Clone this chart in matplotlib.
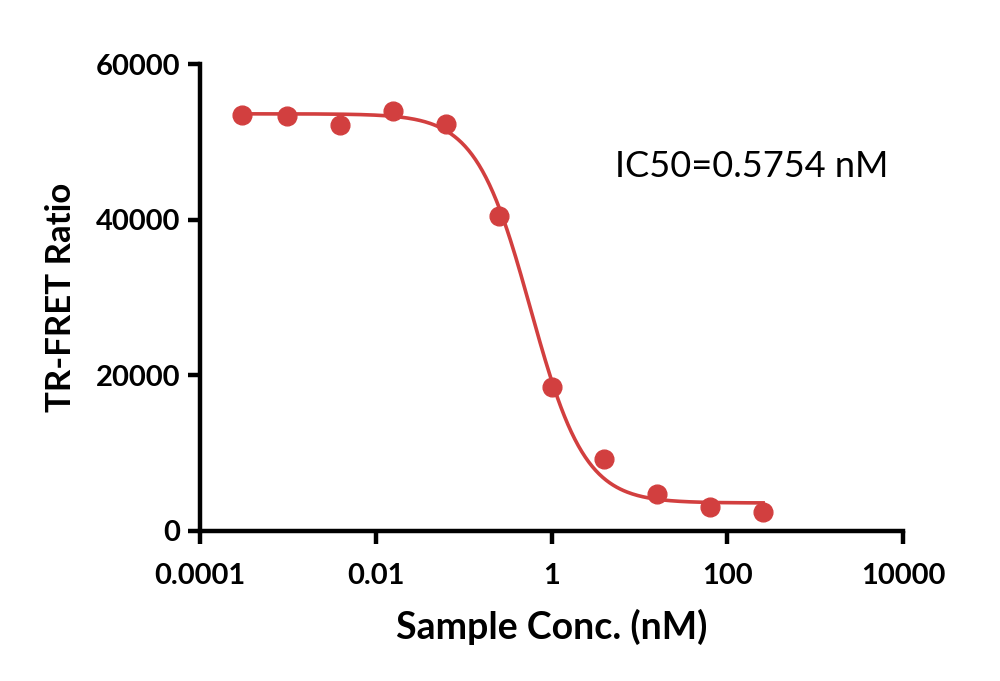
import numpy as np
import matplotlib
matplotlib.use('Agg')
import matplotlib.pyplot as plt
from matplotlib.ticker import FixedLocator, NullLocator

# measured points
conc = [0.0003, 0.00098, 0.0039, 0.0156, 0.0625, 0.25, 1.0, 4.0, 16.0, 64.0, 256.0]
ratio = [53500, 53300, 52200, 54000, 52300, 40500, 18500, 9300, 4800, 3100, 2500]

# 4PL fit parameters
top = 53600
bottom = 3600
ic50 = 0.5754
hill = 1.4

x_ticks = [0.0001, 0.01, 1, 100, 10000]
x_tick_labels = ['0.0001', '0.01', '1', '100', '10000']
y_ticks = [0, 20000, 40000, 60000]

red = '#d23f3f'

plt.rcParams['font.family'] = ['Lato', 'DejaVu Sans']

fig = plt.figure(figsize=(10, 6.81), dpi=100)
ax = fig.add_axes([0.2, 0.2203, 0.703, 0.6857])

xs = np.logspace(np.log10(conc[0]), np.log10(conc[-1]), 300)
fit = bottom + (top - bottom) / (1 + (xs / ic50) ** hill)
ax.plot(xs, fit, color=red, lw=2.6, zorder=2)
ax.plot(conc, ratio, 'o', color=red, ms=13.5, zorder=3, clip_on=False)

ax.set_xscale('log')
ax.set_xlim(0.0001, 10000)
ax.set_ylim(0, 60000)
ax.xaxis.set_major_locator(FixedLocator(x_ticks))
ax.xaxis.set_minor_locator(NullLocator())
ax.set_xticklabels(x_tick_labels)
ax.set_yticks(y_ticks)
ax.set_yticklabels([str(v) for v in y_ticks])

for side in ['top', 'right']:
    ax.spines[side].set_visible(False)
for side in ['left', 'bottom']:
    ax.spines[side].set_linewidth(3.2)
ax.tick_params(width=3.2, length=9, labelsize=21)
ax.tick_params(axis='x', pad=14)
ax.tick_params(axis='y', pad=5)
for lab in ax.get_xticklabels() + ax.get_yticklabels():
    lab.set_fontweight('bold')

ax.set_xlabel('Sample Conc. (nM)', fontsize=27, fontweight='bold', labelpad=14)
ax.set_ylabel('TR-FRET Ratio', fontsize=25, fontweight='bold', labelpad=14)

ax.text(0.59, 0.78, 'IC50=0.5754 nM', transform=ax.transAxes,
        fontsize=26, ha='left', va='center')

fig.savefig('out.png', dpi=100)
